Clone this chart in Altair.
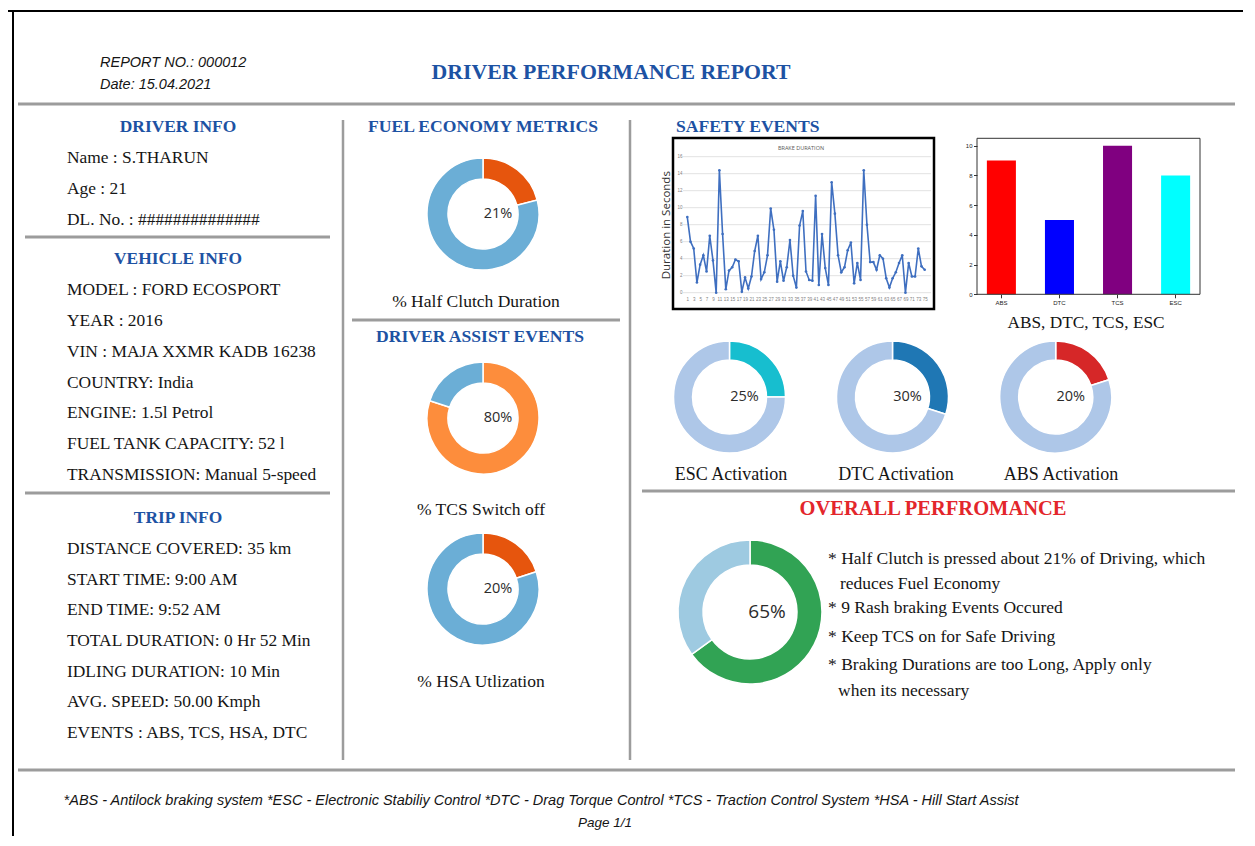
import altair as alt
import pandas as pd

# ------------------------------------------------------------------ data
REPORT_NO = "REPORT NO.: 000012"
REPORT_DATE = "Date: 15.04.2021"
TITLE = "DRIVER PERFORMANCE REPORT"

DRIVER_HEAD = "DRIVER INFO"
DRIVER_INFO = ["Name : S.THARUN", "Age : 21", "DL. No. : ##############"]
VEHICLE_HEAD = "VEHICLE INFO"
VEHICLE_INFO = ["MODEL : FORD ECOSPORT", "YEAR : 2016", "VIN : MAJA XXMR KADB 16238",
                "COUNTRY: India", "ENGINE: 1.5l Petrol", "FUEL TANK CAPACITY: 52 l",
                "TRANSMISSION: Manual 5-speed"]
TRIP_HEAD = "TRIP INFO"
TRIP_INFO = ["DISTANCE COVERED: 35 km", "START TIME: 9:00 AM", "END TIME: 9:52 AM",
             "TOTAL DURATION: 0 Hr 52 Min", "IDLING DURATION:  10 Min",
             "AVG. SPEED: 50.00 Kmph", "EVENTS : ABS, TCS, HSA, DTC"]

FUEL_HEAD = "FUEL ECONOMY METRICS"
ASSIST_HEAD = "DRIVER ASSIST EVENTS"
MID_LABELS = ["% Half Clutch Duration", "% TCS Switch off", "% HSA Utlization"]
MID_PCTS = [21, 80, 20]

SAFETY_HEAD = "SAFETY EVENTS"
LINE_TITLE = "BRAKE DURATION"
LINE_YTITLE = "Duration in Seconds"
BRAKE = [8.9, 6.0, 5.2, 1.2, 3.3, 4.4, 2.5, 6.7, 3.8, 0.0,
         14.4, 6.9, 0.4, 2.6, 3.0, 3.9, 3.7, 0.1, 1.8, 0.5,
         1.9, 4.9, 6.7, 1.6, 2.4, 4.4, 9.9, 7.4, 1.3, 3.7,
         1.4, 3.0, 6.2, 2.0, 0.6, 7.9, 9.6, 2.5, 1.5, 1.4,
         11.4, 0.9, 6.9, 2.9, 0.9, 13.0, 9.3, 4.4, 2.4, 3.0,
         5.0, 5.9, 1.1, 3.5, 1.5, 14.4, 8.0, 3.6, 3.6, 2.7,
         4.4, 4.0, 1.7, 0.6, 1.7, 2.4, 3.5, 4.4, 0.0, 3.5,
         1.9, 1.9, 5.2, 3.1, 2.7]
LINE_Y_TICKS = [0, 2, 4, 6, 8, 10, 12, 14, 16]
LINE_X_TICKS = list(range(1, 76, 2))

BAR_CATS = ["ABS", "DTC", "TCS", "ESC"]
BAR_VALS = [9, 5, 10, 8]
BAR_Y_TICKS = [0, 2, 4, 6, 8, 10]
BAR_CAPTION = "ABS, DTC, TCS, ESC"

ACT_LABELS = ["ESC Activation", "DTC Activation", "ABS Activation"]
ACT_PCTS = [25, 30, 20]

OVERALL_HEAD = "OVERALL PERFROMANCE"
OVERALL_PCT = 65
BULLETS = ["* Half Clutch is pressed about 21% of Driving, which",
           "reduces Fuel Economy",
           "* 9 Rash braking Events Occured",
           "* Keep TCS on for Safe Driving",
           "* Braking Durations are too Long, Apply only",
           "when its necessary"]

FOOTNOTE = ("*ABS - Antilock braking system *ESC - Electronic Stabiliy Control "
            "*DTC - Drag Torque Control *TCS - Traction Control System *HSA - Hill Start Assist")
PAGE = "Page 1/1"

# ------------------------------------------------------------------ style / layout
W, H = 1235, 828
SERIF = "Liberation Serif"
SANS = "Liberation Sans"
CAL = "Open Sans"
BLUE = "#1d52a3"
RED = "#e3262b"
INK = "#151515"
DIV = "#9c9c9c"

MID_COLORS = [["#e6550d", "#6baed6"], ["#fd8d3c", "#6baed6"], ["#e6550d", "#6baed6"]]
ACT_COLORS = [["#17becf", "#aec7e8"], ["#1f77b4", "#aec7e8"], ["#d62728", "#aec7e8"]]
OVERALL_COLORS = ["#31a354", "#9ecae1"]
BAR_COLORS = ["#ff0000", "#0000ff", "#800080", "#00ffff"]
LINE_COLOR = "#3f6fc0"


def vx(v):
    return v - 8


def vy(v):
    return v - 8


DUMMY = pd.DataFrame({"d": [0]})


def text(s, x, y, size, font=SERIF, weight="normal", style="normal", color=INK, align="left"):
    df = pd.DataFrame({"t": [s]})
    return alt.Chart(df).mark_text(
        align=align, baseline="middle", font=font, fontSize=size,
        fontWeight=weight, fontStyle=style, color=color
    ).encode(x=alt.value(vx(x)), y=alt.value(vy(y)), text="t:N")


def text_list(lines, x, y0, y1, size, font=SERIF, color=INK):
    df = pd.DataFrame({"i": list(range(len(lines))), "t": lines})
    return alt.Chart(df).mark_text(
        align="left", baseline="middle", font=font, fontSize=size, color=color
    ).encode(
        x=alt.value(vx(x)),
        y=alt.Y("i:Q", scale=alt.Scale(domain=[0, len(lines) - 1], range=[vy(y0), vy(y1)],
                                       nice=False, zero=False), axis=None),
        text="t:N")


def hrule(x0, x1, y, w=3, color=DIV):
    return alt.Chart(DUMMY).mark_rule(color=color, strokeWidth=w).encode(
        x=alt.value(vx(x0)), x2=alt.value(vx(x1)), y=alt.value(vy(y)))


def vrule(x, y0, y1, w=2.5, color=DIV):
    return alt.Chart(DUMMY).mark_rule(color=color, strokeWidth=w).encode(
        x=alt.value(vx(x)), y=alt.value(vy(y0)), y2=alt.value(vy(y1)))


def box(x0, y0, x1, y1, color, w):
    return alt.Chart(DUMMY).mark_rect(fillOpacity=0, stroke=color, strokeWidth=w).encode(
        x=alt.value(vx(x0)), x2=alt.value(vx(x1)), y=alt.value(vy(y0)), y2=alt.value(vy(y1)))


def donut(pct, cx, cy, colors, r_out, r_in, fs, dx=15):
    df = pd.DataFrame({"k": ["part", "rest"], "v": [pct, 100 - pct], "o": [0, 1]})
    arc = alt.Chart(df).mark_arc(outerRadius=r_out, innerRadius=r_in, stroke="white",
                                 strokeWidth=1.5).encode(
        theta=alt.Theta("v:Q", stack=True),
        color=alt.Color("k:N", scale=alt.Scale(domain=["part", "rest"], range=colors), legend=None),
        order=alt.Order("o:Q"),
        x=alt.value(vx(cx)), y=alt.value(vy(cy)))
    lab = text(f"{pct}%", cx + dx, cy, fs, font=CAL, color="#2b2b2b", align="center")
    return [arc, lab]


layers = []

# page border (top and left edges only are visible)
layers.append(hrule(8, W + 8, 11, w=2, color="#000000"))
layers.append(vrule(13, 10, H + 8, w=2, color="#000000"))

# header
layers.append(text(REPORT_NO, 100, 63, 14.5, font=SANS, style="italic"))
layers.append(text(REPORT_DATE, 100, 85, 14.5, font=SANS, style="italic"))
layers.append(text(TITLE, 611, 72, 21.8, weight="bold", color=BLUE, align="center"))
layers.append(hrule(18, 1235, 104, w=3))

# dividers
layers.append(vrule(343, 120, 760))
layers.append(vrule(630, 120, 760))
layers.append(hrule(25, 330, 237))
layers.append(hrule(25, 330, 493))
layers.append(hrule(352, 620, 320))
layers.append(hrule(642, 1235, 491))
layers.append(hrule(18, 1235, 770, w=3))

# left column
layers.append(text(DRIVER_HEAD, 178, 127, 17.4, weight="bold", color=BLUE, align="center"))
layers.append(text_list(DRIVER_INFO, 67, 158, 220, 17.4))
layers.append(text(VEHICLE_HEAD, 178, 259, 17.4, weight="bold", color=BLUE, align="center"))
layers.append(text_list(VEHICLE_INFO, 67, 290, 475, 17.4))
layers.append(text(TRIP_HEAD, 178, 518, 17.4, weight="bold", color=BLUE, align="center"))
layers.append(text_list(TRIP_INFO, 67, 549, 733, 17.4))

# middle column
layers.append(text(FUEL_HEAD, 483, 127, 17.6, weight="bold", color=BLUE, align="center"))
layers.append(text(ASSIST_HEAD, 480, 337, 17.6, weight="bold", color=BLUE, align="center"))
mid_centers = [(483, 214), (483, 418), (483, 589)]
mid_label_pos = [(476, 302), (481, 510), (481, 682)]
for pct, (cx, cy), cols, lab, (lx, ly) in zip(MID_PCTS, mid_centers, MID_COLORS, MID_LABELS, mid_label_pos):
    layers += donut(pct, cx, cy, cols, 56, 35, 14.5)
    layers.append(text(lab, lx, ly, 17.5, align="center"))

# right column: safety events
layers.append(text(SAFETY_HEAD, 676, 127, 17.6, weight="bold", color=BLUE))

# line chart
line_df = pd.DataFrame({"n": list(range(1, len(BRAKE) + 1)), "d": BRAKE})
grid_df = pd.DataFrame({"g": LINE_Y_TICKS})
lxs = alt.Scale(domain=[1, len(BRAKE)], range=[vx(687.3), vx(924.7)], nice=False, zero=False)
lys = alt.Scale(domain=[0, 16], range=[vy(292.7), vy(156.7)], nice=False, zero=True)
ly_axis = alt.Axis(orient="left", offset=-vx(684), values=LINE_Y_TICKS, labelFontSize=4.5,
                   labelColor="#7f7f7f", ticks=False, domain=False, grid=False, labelPadding=2,
                   title=LINE_YTITLE, titleFont=CAL, titleFontSize=11.5, titleFontWeight="normal",
                   titleColor="#333333", titlePadding=5)
lx_axis = alt.Axis(orient="bottom", offset=vy(293) - H, values=LINE_X_TICKS, labelFontSize=4.5,
                   labelColor="#7f7f7f", ticks=False, domain=False, grid=False, labelPadding=3,
                   labelFlush=False, labelOverlap=False, title=None)
grid = alt.Chart(grid_df).mark_rule(color="#d9d9d9", strokeWidth=0.8).encode(
    y=alt.Y("g:Q", scale=lys, axis=ly_axis), x=alt.value(vx(683)), x2=alt.value(vx(931)))
line = alt.Chart(line_df).mark_line(
    color=LINE_COLOR, strokeWidth=1.6,
    point=alt.OverlayMarkDef(filled=True, size=7, color=LINE_COLOR)
).encode(x=alt.X("n:Q", scale=lxs, axis=lx_axis), y=alt.Y("d:Q", scale=lys, axis=ly_axis))
layers.append(alt.layer(grid, line))
layers.append(box(673, 138, 934, 309, "#000000", 2.5))
layers.append(text(LINE_TITLE, 801, 148, 5.5, font=CAL, color="#595959", align="center"))

# bar chart
bar_df = pd.DataFrame({"c": BAR_CATS, "v": BAR_VALS})
bars = alt.Chart(bar_df).mark_bar().encode(
    x=alt.X("c:N", sort=BAR_CATS,
            scale=alt.Scale(range=[vx(977), vx(1200)], paddingInner=0.5, paddingOuter=0.17),
            axis=alt.Axis(orient="bottom", offset=vy(294.3) - H, labelAngle=0, labelFontSize=6,
                          labelColor="#222222", tickSize=3.5, tickColor="#333333", domain=False,
                          labelPadding=1.5, title=None, grid=False)),
    y=alt.Y("v:Q", scale=alt.Scale(domain=[0, 10.5], range=[vy(294.3), vy(138.3)], nice=False),
            axis=alt.Axis(orient="left", offset=-vx(977), values=BAR_Y_TICKS, labelFontSize=6,
                          labelColor="#222222", tickSize=3.5, tickColor="#333333", domain=False,
                          grid=False, labelPadding=1.5, title=None)),
    color=alt.Color("c:N", scale=alt.Scale(domain=BAR_CATS, range=BAR_COLORS), legend=None))
layers.append(bars)
layers.append(box(977, 138.3, 1200, 294.3, "#333333", 1))
layers.append(text(BAR_CAPTION, 1086, 323, 17.3, align="center"))

# activation donuts
act_centers = [(729.5, 397), (892.5, 397), (1055.7, 397)]
act_label_x = [731, 896, 1061]
for pct, (cx, cy), cols, lab, (lx) in zip(ACT_PCTS, act_centers, ACT_COLORS, ACT_LABELS, act_label_x):
    layers += donut(pct, cx, cy, cols, 56, 37, 14.5)
    layers.append(text(lab, lx, 475, 18, align="center"))

# overall performance
layers.append(text(OVERALL_HEAD, 933, 509, 20.5, weight="bold", color=RED, align="center"))
layers += donut(OVERALL_PCT, 750, 612, OVERALL_COLORS, 72, 47, 19, dx=17)
bullet_pos = [(828, 559), (840, 584), (828, 608), (828, 637), (828, 665), (838, 691)]
for s, (bx, by) in zip(BULLETS, bullet_pos):
    layers.append(text(s, bx, by, 17.5))

# footer
layers.append(text(FOOTNOTE, 541, 801, 14.5, font=SANS, style="italic", align="center"))
layers.append(text(PAGE, 605, 823, 13.5, font=SANS, style="italic", align="center"))

chart = alt.layer(*layers).properties(
    width=W, height=H, padding=0, background="white",
    autosize=alt.AutoSizeParams(type="none")
).resolve_scale(
    x="independent", y="independent", color="independent", theta="independent"
).configure_view(stroke="transparent", strokeWidth=0)

chart.save("out.html", embed_options={"renderer": "svg", "actions": False})
